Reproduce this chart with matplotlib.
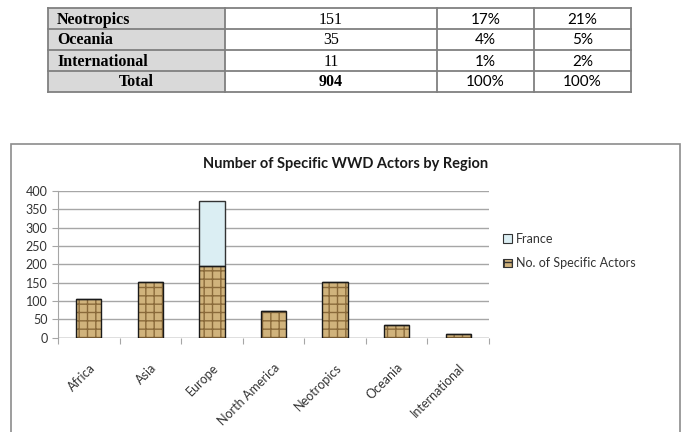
import matplotlib.pyplot as plt
from matplotlib.patches import Rectangle, Patch
from matplotlib.lines import Line2D

# === data ===
regions = ["Africa", "Asia", "Europe", "North America", "Neotropics", "Oceania", "International"]
specific = [105, 153, 196, 72, 151, 35, 11]
france = [0, 0, 178, 0, 0, 0, 0]

row_labels = ["Neotropics", "Oceania", "International", "Total"]
row_counts = ["151", "35", "11", "904"]
row_pct_all = ["17%", "4%", "1%", "100%"]
row_pct_specific = ["21%", "5%", "2%", "100%"]

W, H = 682, 432
fig = plt.figure(figsize=(W / 100, H / 100), dpi=100)


def fx(px):
    return px / W


def fy(py):
    return 1 - py / H


# === table on top of the page ===
col_edges = [48, 225, 437, 534, 631]
row_edges = [8, 29, 50, 71, 92]
line_col = "#808080"

for r in range(4):
    y0, y1 = row_edges[r], row_edges[r + 1]
    fig.add_artist(Rectangle((fx(col_edges[0]), fy(y1)), fx(col_edges[1] - col_edges[0]),
                             (y1 - y0) / H, facecolor="#d9d9d9", edgecolor="none",
                             transform=fig.transFigure))
    yc = fy((y0 + y1) / 2 + 1)
    if r < 3:
        fig.text(fx(57), yc, row_labels[r], family="Liberation Serif", weight="bold",
                 fontsize=11.5, ha="left", va="center")
    else:
        fig.text(fx((col_edges[0] + col_edges[1]) / 2), yc, row_labels[r],
                 family="Liberation Serif", weight="bold", fontsize=11.5,
                 ha="center", va="center")
    fig.text(fx((col_edges[1] + col_edges[2]) / 2), yc, row_counts[r],
             family="Liberation Serif", weight="bold" if r == 3 else "normal",
             fontsize=11.5, ha="center", va="center")
    fig.text(fx((col_edges[2] + col_edges[3]) / 2), yc, row_pct_all[r],
             family="Lato", fontsize=11, ha="center", va="center")
    fig.text(fx((col_edges[3] + col_edges[4]) / 2), yc, row_pct_specific[r],
             family="Lato", fontsize=11, ha="center", va="center")

for x in col_edges:
    fig.add_artist(Line2D([fx(x), fx(x)], [fy(row_edges[0]), fy(row_edges[-1])],
                          color=line_col, lw=1.3, transform=fig.transFigure))
for y in row_edges:
    fig.add_artist(Line2D([fx(col_edges[0]), fx(col_edges[-1])], [fy(y), fy(y)],
                          color=line_col, lw=1.3, transform=fig.transFigure))

# === chart box ===
fig.add_artist(Rectangle((fx(11), -0.05), fx(680 - 11), fy(144) + 0.05,
                         facecolor="white", edgecolor="#8c8c8c", lw=1.2,
                         transform=fig.transFigure, zorder=-10))

fig.text(fx(346), fy(164), "Number of Specific WWD Actors by Region", family="Lato",
         weight="bold", fontsize=10.5, ha="center", va="center", color="#1a1a1a")

ax = fig.add_axes([fx(58), fy(337.7), fx(489 - 58), (337.7 - 191) / H])
ax.set_zorder(5)
ax.set_facecolor("none")

x = list(range(len(regions)))
tan = "#d0b37c"
ax.bar(x, specific, width=0.41, color=tan, edgecolor="#8a6a3a", hatch="++", lw=0, zorder=3)
ax.bar(x, specific, width=0.41, fill=False, edgecolor="#1a1a1a", lw=1.0, zorder=4)
ax.bar(x, france, width=0.41, bottom=specific, color="#dbeef3", edgecolor="#333333",
       lw=1.0, zorder=3)

ax.set_xlim(-0.5, len(regions) - 0.5)
ax.set_ylim(0, 400)
ax.set_yticks(range(0, 401, 50))
ax.yaxis.grid(True, color="#a6a6a6", lw=1.0)
ax.set_axisbelow(True)
for s in ["top", "right", "bottom"]:
    ax.spines[s].set_visible(False)
ax.spines["left"].set_color("#a6a6a6")
ax.tick_params(axis="y", length=4, color="#a6a6a6", labelsize=9, labelcolor="#333333")
for lbl in ax.get_yticklabels():
    lbl.set_family("Lato")

ax.set_xticks([i - 0.5 for i in range(len(regions) + 1)])
ax.set_xticklabels([])
ax.tick_params(axis="x", length=4, direction="out", color="#a6a6a6")
ax.axhline(0, color="#a6a6a6", lw=1.0, zorder=2)

for i, name in enumerate(regions):
    ax.annotate(name, xy=(i, 0), xytext=(3, -20), textcoords="offset points",
                rotation=45, rotation_mode="anchor", ha="right", va="center",
                family="Lato", fontsize=9, color="#333333")

handles = [Patch(facecolor="#dbeef3", edgecolor="#333333", lw=0.8),
           Patch(facecolor=tan, edgecolor="#333333", hatch="++", lw=0.8)]
fig.legend(handles, ["France", "No. of Specific Actors"], loc="center left",
           bbox_to_anchor=(fx(492), fy(251)), frameon=False, handlelength=0.7,
           handleheight=0.7, handletextpad=0.3, labelspacing=1.0,
           prop={"family": "Lato", "size": 9}, labelcolor="#333333")

plt.savefig("out.png", dpi=100)
plt.close()
